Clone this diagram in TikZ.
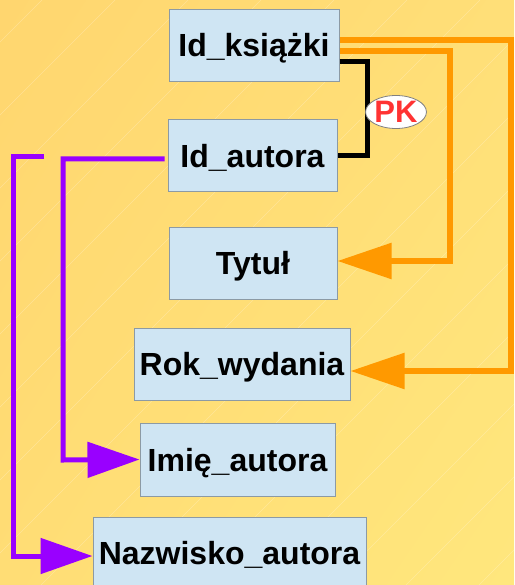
\documentclass[tikz,border=0pt]{standalone}
\usepackage{fontspec}
\setmainfont{Liberation Sans}
\usetikzlibrary{arrows.meta,calc,shapes.geometric,shadings}
\definecolor{bgUL}{HTML}{FFD66F}
\definecolor{bgUR}{HTML}{FFDF78}
\definecolor{bgLL}{HTML}{FFDD75}
\definecolor{bgLR}{HTML}{FFE77D}
\definecolor{boxfill}{HTML}{CFE5F3}
\definecolor{boxline}{HTML}{8C9AA4}
\definecolor{fkorange}{HTML}{FF9900}
\definecolor{fkpurple}{HTML}{9900FF}
\definecolor{pkred}{HTML}{FF3333}
\begin{document}
\begin{tikzpicture}[x=1pt,y=-1pt,
  field/.style={draw=boxline, line width=1pt, fill=boxfill, inner sep=0pt,
    minimum height=72pt, text height=23pt, text depth=0pt,
    font=\fontsize{32}{32}\selectfont\bfseries},
  pklink/.style={draw=black, line width=5pt},
  orangelink/.style={draw=fkorange, line width=5.5pt, -{Triangle[length=54pt,width=35pt]}},
  purplelink/.style={draw=fkpurple, line width=5pt, -{Triangle[length=52pt,width=35pt]}},
  pktag/.style={ellipse, draw=gray, line width=0.8pt, fill=white, inner sep=0pt,
    minimum width=57pt, minimum height=33pt, text=pkred,
    text height=22pt, text depth=0pt,
    font=\fontsize{31}{31}\selectfont\bfseries}]

% background
\useasboundingbox (0,0) rectangle (514,585);
\shade[upper left=bgUL, upper right=bgUR, lower left=bgLL, lower right=bgLR]
  (0,0) rectangle (514,585);
\begin{scope}
  \clip (0,0) rectangle (514,585);
  \foreach \i in {42,115,...,1150}
    \draw[white, opacity=0.25, line width=0.6pt] (\i-585,585) -- (\i,0);
\end{scope}

% fields
\node[field, minimum width=170pt] (ksiazki) at (254,45.5) {Id\_książki};
\node[field, minimum width=169pt] (autora) at (252.5,156) {Id\_autora};
\node[field, minimum width=168pt] (tytul) at (253,263) {Tytuł};
\node[field, minimum width=216pt] (rok) at (242,364) {Rok\_wydania};
\node[field, minimum width=195pt, minimum height=73pt] (imie) at (237.5,459.5) {Imię\_autora};
\node[field, minimum width=273pt] (nazwisko) at (229.5,553) {Nazwisko\_autora};

% composite primary key
\draw[pklink] ($(ksiazki.east)+(0,16.5)$) -- ++(28,0) |- (autora.east);
\node[pktag] (pk) at (396,112) {PK};

% dependencies on Id_książki
\draw[orangelink] ($(ksiazki.east)+(0,-5.5)$) -- (511,40) -- (511,371) -- ($(rok.east)+(0,7)$);
\draw[orangelink] ($(ksiazki.east)+(0,5.5)$) -- (450,51) -- (450,261) -- ($(tytul.east)+(0,-2)$);

% dependencies on Id_autora
\coordinate (free) at (44,157);
\draw[purplelink] ($(autora.west)+(-3,3)$) -- (63,159) -- (63,460) -- (imie.west);
\draw[purplelink] (free) -- (13,157) -- (13,556) -- ($(nazwisko.west)+(0,3)$);
\end{tikzpicture}
\end{document}
